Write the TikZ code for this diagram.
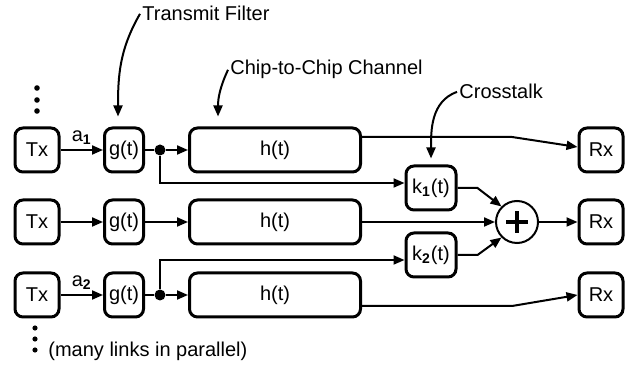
\documentclass[tikz,border=0pt]{standalone}
\usepackage{fontspec}
\setmainfont{Liberation Sans}
\usetikzlibrary{arrows.meta}

\begin{document}
\begin{tikzpicture}[x=0.5pt, y=-0.5pt, font=\fontsize{10}{12}\selectfont,
    blk/.style={draw, line width=1.5pt, rounded corners=4pt, minimum height=22pt, inner sep=1pt},
    sig/.style={line width=1pt, -{Triangle[length=5.5pt,width=4.5pt]}},
    wire/.style={line width=1pt},
    dot/.style={circle, fill, inner sep=0pt, minimum size=5.5pt},
    lbl/.style={anchor=base west, inner sep=1pt}]
  \useasboundingbox (0,0) rectangle (641,367);
  % the three links
  \foreach \i/\y in {1/150, 2/222, 3/295} {
    \node[blk, minimum width=22pt] (tx\i) at (37,\y) {Tx};
    \node[blk, minimum width=19.5pt] (g\i) at (124,\y) {g(t)};
    \node[blk, minimum width=85.5pt] (h\i) at (275,\y) {h(t)};
    \node[blk, minimum width=22pt] (rx\i) at (601,\y) {Rx};
  }
  \node[blk, minimum width=25pt] (k1) at (431,188) {k\textsubscript{\textbf{1}}(t)};
  \node[blk, minimum width=25pt] (k2) at (431,255) {k\textsubscript{\textbf{2}}(t)};
  \node[draw, circle, line width=1pt, minimum size=21pt, inner sep=0pt] (sum) at (517,222) {};
  \draw[line width=1.7pt] ([xshift=-5.5pt]sum.center) -- ([xshift=5.5pt]sum.center);
  \draw[line width=1.7pt] ([yshift=-5.5pt]sum.center) -- ([yshift=5.5pt]sum.center);
  \node[dot] (d1) at (160,150) {};
  \node[dot] (d3) at (160,295) {};
  \coordinate (bend1) at (512,137);
  \coordinate (bend3) at (512,306);
  % top link
  \draw[sig] (tx1) -- node[above, inner sep=2pt] {a\textsubscript{\textbf{1}}} (g1);
  \draw[wire] (g1) -- (d1);
  \draw[sig] (d1) -- (h1);
  \draw[sig] (d1) |- ([yshift=2.5pt]k1.west);
  \draw[sig] ([yshift=6.5pt]h1.east) -- (bend1) -- ([yshift=1.5pt]rx1.west);
  % victim link
  \draw[sig] (tx2) -- (g2);
  \draw[sig] (g2) -- (h2);
  \draw[sig] (h2) -- (sum);
  \draw[sig] (sum) -- (rx2);
  \draw[sig] (k1.east) -- ++(20,0) -- (sum.135);
  \draw[sig] (k2.east) -- ++(20,0) -- (sum.225);
  % bottom link
  \draw[sig] (tx3) -- node[above, inner sep=2pt] {a\textsubscript{\textbf{2}}} (g3);
  \draw[wire] (g3) -- (d3);
  \draw[sig] (d3) -- (h3);
  \draw[sig] (d3) |- ([yshift=-2.5pt]k2.west);
  \draw[sig] ([yshift=-5.5pt]h3.east) -- (bend3) -- (rx3.west);
  % annotations
  \node[lbl] (tfl) at (140,21) {Transmit Filter};
  \node[lbl] (ccl) at (228,75) {Chip-to-Chip Channel};
  \node[lbl] (xtl) at (457,99) {Crosstalk};
  \draw[sig] (tfl.west) to[out=240, in=90] ([shift={(-3pt,5pt)}]g1.north);
  \draw[sig] (ccl.west) to[out=245, in=90] ([shift={(15pt,5pt)}]h1.north west);
  \draw[sig] (xtl.west) to[out=200, in=90] ([yshift=3pt]k1.north);
  % more links
  \foreach \y in {88,100,111} \fill (37,\y) circle (1.4pt);
  \foreach \y in {328,339,350} \fill (35,\y) circle (1.3pt);
  \node[lbl] (par) at (46,357) {(many links in parallel)};
\end{tikzpicture}
\end{document}
